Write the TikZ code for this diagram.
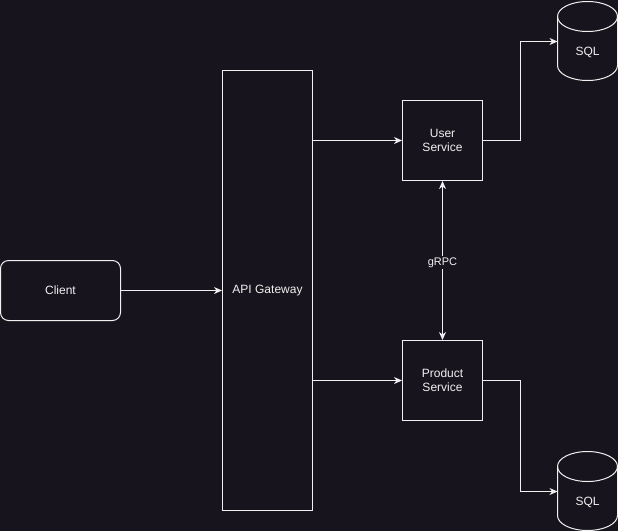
\documentclass[tikz,border=0pt]{standalone}
\usepackage{fontspec}
\setmainfont{Liberation Sans}
\usetikzlibrary{arrows.meta,shapes.geometric}
\definecolor{bg}{HTML}{18141D}
\definecolor{fg}{HTML}{F0F0F0}
\tikzset{
  box/.style={draw=fg, line width=1pt, fill=bg, text=fg, align=center, inner sep=0pt, font=\fontsize{12}{14}\selectfont},
  conn/.style={draw=fg, line width=1pt, -{Stealth[length=8pt,width=7pt,inset=2.5pt]}},
  both/.style={draw=fg, line width=1pt, {Stealth[length=8pt,width=7pt,inset=2.5pt]}-{Stealth[length=8pt,width=7pt,inset=2.5pt]}},
  lbl/.style={text=fg, fill=bg, font=\fontsize{11}{13}\selectfont, inner sep=1.5pt},
  dbtext/.style={text=fg, font=\fontsize{12}{14}\selectfont}
}
\begin{document}
\begin{tikzpicture}[x=1pt,y=-1pt]
\fill[bg] (0,0) rectangle (618,531);
\useasboundingbox (0,0) rectangle (618,531);

\node[box, rounded corners=8pt, minimum width=120pt, minimum height=60pt] (client) at (60.5,290.5) {Client};
\node[box, minimum width=90pt, minimum height=440pt] (api) at (267.5,290.5) {API Gateway};
\node[box, minimum width=80pt, minimum height=80pt] (user) at (442.5,140.5) {User\\Service};
\node[box, minimum width=80pt, minimum height=80pt] (prod) at (442.5,380.5) {Product\\Service};

% cylinders
\foreach \n/\yy in {sqla/1.5, sqlb/451.5}{
  \begin{scope}[shift={(557.5,\yy)}]
    \draw[fg, line width=1pt, fill=bg] (0,15) -- (0,64) arc[x radius=30, y radius=15, start angle=180, end angle=0] -- (60,15) arc[x radius=30, y radius=15, start angle=360, end angle=180] -- cycle;
    \draw[fg, line width=1pt] (0,15) arc[x radius=30, y radius=15, start angle=180, end angle=0];
    \coordinate (\n w) at (0,40);
    \node[dbtext] (\n) at (30,51) {SQL};
  \end{scope}
}

\coordinate (ju) at (520.5,140.5);
\coordinate (jp) at (520.5,380.5);

\draw[conn] (client.east) -- (api.west |- client.east);
\draw[conn] (api.east |- user.west) -- (user.west);
\draw[conn] (api.east |- prod.west) -- (prod.west);
\draw[conn] (user.east) -- (ju) |- (sqlaw);
\draw[conn] (prod.east) -- (jp) |- (sqlbw);
\draw[both] (user.south) -- node[lbl, pos=0.5125] (grpc) {gRPC} (prod.north);
\end{tikzpicture}
\end{document}
